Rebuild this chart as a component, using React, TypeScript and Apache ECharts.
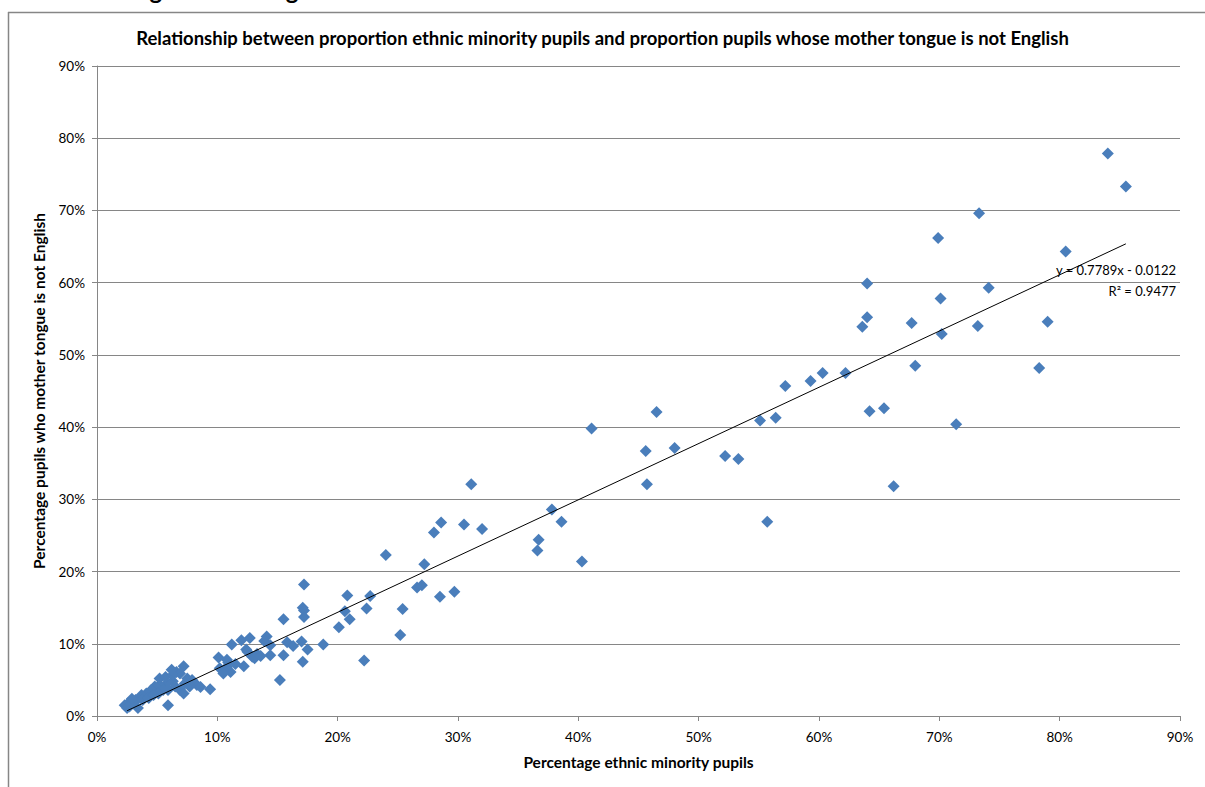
import React, { useEffect, useRef } from "react";
import * as echarts from "echarts";

const chartTitle =
  "Relationship between proportion ethnic minority pupils and proportion pupils whose mother tongue is not English";
const xAxisName = "Percentage ethnic minority pupils";
const yAxisName = "Percentage pupils who mother tongue is not English";
const headingText = "Mother tongue is not English";

const xTicks = [0, 10, 20, 30, 40, 50, 60, 70, 80, 90];

// [ethnic minority %, mother tongue not English %]
const upperPoints: number[][] = [
  [84.0, 77.9], [85.5, 73.3], [73.3, 69.6], [69.9, 66.2], [80.5, 64.3],
  [64.0, 59.9], [74.1, 59.3], [70.1, 57.8], [64.0, 55.2], [63.6, 53.9],
  [67.7, 54.4], [73.2, 54.0], [79.0, 54.6], [70.2, 52.9], [62.2, 47.5],
  [60.3, 47.5], [68.0, 48.5], [78.3, 48.2], [64.2, 42.2], [65.4, 42.6],
  [71.4, 40.4], [66.2, 31.8], [57.2, 45.7], [59.3, 46.4], [46.5, 42.1],
  [41.1, 39.8], [55.1, 40.9], [56.4, 41.3], [45.6, 36.7], [48.0, 37.1],
  [52.2, 36.0], [53.3, 35.6], [45.7, 32.1], [37.8, 28.6], [38.6, 26.9],
  [55.7, 26.9], [36.7, 24.4], [36.6, 22.9], [40.3, 21.4], [31.1, 32.1],
  [28.6, 26.8], [28.0, 25.4], [30.5, 26.5], [32.0, 25.9], [24.0, 22.3],
  [27.2, 21.0], [26.6, 17.8], [27.0, 18.1], [28.5, 16.5], [29.7, 17.2],
  [25.4, 14.8], [25.2, 11.2],
];

const midPoints: number[][] = [
  [17.2, 18.2], [20.8, 16.7], [22.7, 16.6], [17.1, 15.0], [17.2, 14.6],
  [17.2, 13.7], [20.6, 14.5], [21.0, 13.4], [22.4, 14.9], [20.1, 12.3],
  [17.0, 10.3], [17.5, 9.2], [18.8, 9.9], [17.1, 7.5], [22.2, 7.7],
  [15.5, 13.4], [15.2, 5.0], [15.8, 10.2], [16.3, 9.7], [15.5, 8.4],
  [11.2, 9.9], [12.0, 10.5], [12.7, 10.8], [14.1, 11.0], [13.9, 10.4],
  [12.4, 9.2], [14.4, 8.4], [12.9, 8.2], [13.3, 8.6], [10.1, 8.1],
  [12.2, 6.9], [10.9, 7.4], [11.1, 6.1], [10.2, 6.6], [10.8, 6.8],
  [13.1, 8.0], [14.4, 9.8], [11.5, 7.2], [10.5, 6.3], [12.5, 8.9],
  [13.6, 8.3], [10.8, 7.8], [10.5, 5.9],
];

const lowPoints: number[][] = [
  [7.2, 6.9], [6.6, 6.1], [5.9, 1.5], [9.4, 3.7], [8.3, 4.3],
  [7.7, 4.1], [6.9, 3.6], [7.2, 3.1], [6.3, 4.8], [6.5, 4.1],
  [5.8, 4.5], [5.2, 4.3], [4.8, 4.1], [4.5, 3.6], [4.1, 3.1],
  [3.7, 2.9], [3.6, 2.5], [3.2, 2.2], [3.0, 1.8], [2.6, 1.8],
  [2.3, 1.5], [2.5, 1.1], [2.7, 1.3], [3.4, 1.1], [3.8, 2.2],
  [4.3, 2.5], [5.5, 3.6], [5.9, 3.6], [5.1, 3.1], [4.7, 2.9],
  [5.2, 5.2], [5.7, 5.4], [6.9, 5.9], [7.5, 5.2], [7.9, 5.0],
  [7.3, 4.5], [6.3, 5.7], [6.2, 6.4], [8.6, 4.0], [2.9, 2.4],
];

const trendSlope = 0.7789;
const trendIntercept = -1.22; // in percentage points (-0.0122)
const trendRange = [2.5, 85.5];
const equationText = "y = 0.7789x - 0.0122";
const r2Text = "R² = 0.9477";

export default function App() {
  const ref = useRef<HTMLDivElement>(null);

  useEffect(() => {
    if (!ref.current) return;
    const chart = echarts.init(ref.current, undefined, { renderer: "svg" });
    const font = "Lato, 'Open Sans', sans-serif";
    const grey = "#868686";
    const trendData = trendRange.map((x) => [x, trendSlope * x + trendIntercept]);
    const scatterData = [...upperPoints, ...midPoints, ...lowPoints];

    chart.setOption({
      animation: false,
      backgroundColor: "#ffffff",
      textStyle: { fontFamily: font },
      title: {
        text: chartTitle,
        left: "center",
        top: 23,
        textStyle: { fontFamily: font, fontSize: 18.5, fontWeight: "bold", color: "#000" },
      },
      grid: { left: 97, right: 25, top: 66, bottom: 71, containLabel: false },
      xAxis: {
        type: "value",
        min: xTicks[0],
        max: xTicks[xTicks.length - 1],
        interval: 10,
        name: xAxisName,
        nameLocation: "middle",
        nameGap: 38,
        nameTextStyle: { fontFamily: font, fontSize: 15.5, fontWeight: "bold", color: "#000" },
        axisLine: { lineStyle: { color: grey, width: 1 } },
        axisTick: { show: true, length: 5, lineStyle: { color: grey } },
        axisLabel: { formatter: "{value}%", fontFamily: font, fontSize: 13.5, color: "#000", margin: 14 },
        splitLine: { show: false },
      },
      yAxis: {
        type: "value",
        min: 0,
        max: 90,
        interval: 10,
        name: yAxisName,
        nameLocation: "middle",
        nameGap: 50,
        nameTextStyle: { fontFamily: font, fontSize: 15.5, fontWeight: "bold", color: "#000" },
        axisLine: { show: true, lineStyle: { color: grey, width: 1 } },
        axisTick: { show: true, length: 5, lineStyle: { color: grey } },
        axisLabel: { formatter: "{value}%", fontFamily: font, fontSize: 13.5, color: "#000", margin: 12 },
        splitLine: { show: true, lineStyle: { color: grey, width: 1 } },
      },
      series: [
        {
          type: "scatter",
          data: scatterData,
          symbol: "diamond",
          symbolSize: 12,
          itemStyle: { color: "#4A7EBB", opacity: 1 },
          z: 2,
        },
        {
          type: "line",
          data: trendData,
          showSymbol: false,
          symbol: "none",
          lineStyle: { color: "#000", width: 1 },
          z: 3,
        },
      ],
      graphic: [
        {
          type: "line",
          shape: { x1: 8.5, y1: 12, x2: 8.5, y2: 787 },
          style: { stroke: grey, lineWidth: 1.5 },
        },
        {
          type: "line",
          shape: { x1: 8, y1: 12.5, x2: 1205, y2: 12.5 },
          style: { stroke: grey, lineWidth: 1.5 },
        },
        {
          type: "text",
          x: 28,
          y: -23,
          style: { text: headingText, font: `bold 24px ${font}`, fill: "#000" },
        },
        {
          type: "text",
          x: 1176,
          y: 263,
          style: { text: equationText, font: `13px ${font}`, fill: "#000", textAlign: "right" },
        },
        {
          type: "text",
          x: 1176,
          y: 284,
          style: { text: r2Text, font: `13px ${font}`, fill: "#000", textAlign: "right" },
        },
      ],
    });
    return () => chart.dispose();
  }, []);

  return (
    <div
      ref={ref}
      style={{ position: "fixed", left: 0, top: 0, width: 1205, height: 787 }}
    />
  );
}
